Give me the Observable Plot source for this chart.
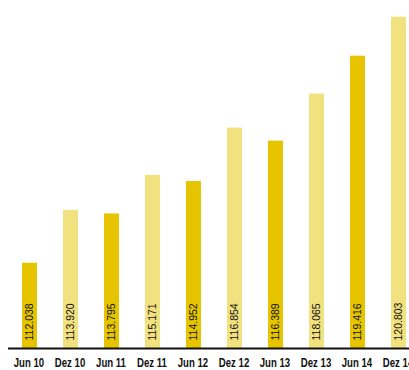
<!DOCTYPE html>
<html>
<head>
<meta charset="utf-8">
<script src="https://cdn.jsdelivr.net/npm/d3@7"></script>
<script src="https://cdn.jsdelivr.net/npm/@observablehq/plot@0.6"></script>
<style>
  html, body { margin: 0; padding: 0; background: #fff; overflow: hidden; }
  #chart svg { display: block; }
</style>
</head>
<body>
<div id="chart"></div>
<script>
const categories = ["Jun 10", "Dez 10", "Jun 11", "Dez 11", "Jun 12", "Dez 12", "Jun 13", "Dez 13", "Jun 14", "Dez 14"];
const values = [112.038, 113.920, 113.795, 115.171, 114.952, 116.854, 116.389, 118.065, 119.416, 120.803];
const labels = ["112.038", "113.920", "113.795", "115.171", "114.952", "116.854", "116.389", "118.065", "119.416", "120.803"];

const data = categories.map((c, i) => ({cat: c, value: values[i], label: labels[i], kind: c.startsWith("Jun") ? "Jun" : "Dez"}));
const base = 109;

const chart = Plot.plot({
  width: 409,
  height: 370,
  marginTop: 0,
  marginBottom: 22,
  marginLeft: 8,
  marginRight: 0,
  x: {type: "band", domain: categories, range: [8.5, 418.5], padding: 0, axis: null},
  y: {domain: [base, 121.4], axis: null},
  color: {domain: ["Jun", "Dez"], range: ["#E6C500", "#F1E17F"]},
  style: {background: "#fff"},
  marks: [
    Plot.barY(data, {x: "cat", y1: base, y2: "value", fill: "kind", insetLeft: 13, insetRight: 13}),
    Plot.text(data, {x: "cat", y: () => base, text: "label", rotate: -90, textAnchor: "start", dy: -8,
      fill: "#111", fontSize: 10.5, fontFamily: "Liberation Sans, Arial, sans-serif"}),
    Plot.ruleY([base], {stroke: "#111", strokeWidth: 2}),
    Plot.text(data, {x: "cat", y: () => base, text: "cat", dy: 18, dx: -1, fill: "#111",
      fontSize: 13, fontWeight: "bold", fontFamily: "Liberation Sans, Arial, sans-serif"})
  ]
});
// condense the bold tick labels horizontally
chart.querySelectorAll('g[font-weight="bold"] text').forEach(t => {
  const x = t.getAttribute("x");
  const y = t.getAttribute("y");
  let tr = t.getAttribute("transform") || "";
  if (x != null || y != null) {
    tr = `translate(${+x || 0},${+y || 0}) ` + tr;
    t.removeAttribute("x");
    t.removeAttribute("y");
  }
  t.setAttribute("transform", `${tr} scale(0.74,1)`);
});
document.getElementById("chart").appendChild(chart);
</script>
</body>
</html>
